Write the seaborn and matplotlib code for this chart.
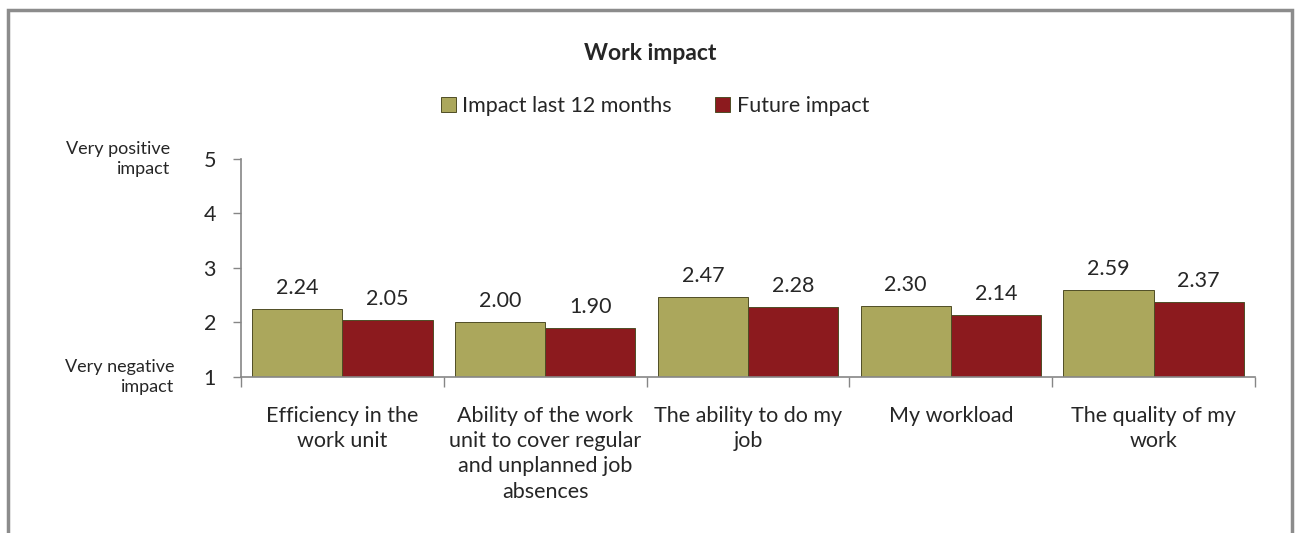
import pandas as pd
import seaborn as sns
import matplotlib.pyplot as plt
from matplotlib.patches import Rectangle
from matplotlib.transforms import blended_transform_factory

# chart data
categories = ['Efficiency in the\nwork unit',
              'Ability of the work\nunit to cover regular\nand unplanned job\nabsences',
              'The ability to do my\njob',
              'My workload',
              'The quality of my\nwork']
last_12 = [2.24, 2.00, 2.47, 2.30, 2.59]
future = [2.05, 1.90, 2.28, 2.14, 2.37]
series_names = ['Impact last 12 months', 'Future impact']

df = pd.DataFrame({
    'category': categories * 2,
    'score': last_12 + future,
    'series': [series_names[0]] * 5 + [series_names[1]] * 5,
})

sns.set_style('white')
plt.rcParams['font.family'] = ['Lato', 'DejaVu Sans']

fig = plt.figure(figsize=(13, 5.33), dpi=100)
ax = fig.add_axes([0.1854, 0.2927, 0.78, 0.409])

colors = ['#ABA75C', '#8C1A1E']
sns.barplot(data=df, x='category', y='score', hue='series', palette=colors,
            saturation=1, width=0.89, gap=0, edgecolor='#4f4d25', linewidth=0.7,
            ax=ax, legend=True)

# bars start at 1 (bottom of axis), so the axis is clipped at 1
ax.set_ylim(1, 5)
ax.set_yticks([1, 2, 3, 4, 5])
ax.set_xlim(-0.5, 4.5)
ax.set_xlabel('')
ax.set_ylabel('')

for cont in ax.containers:
    ax.bar_label(cont, fmt='%.2f', padding=8, fontsize=15.5)

# ticks: y outward, x ticks between categories
ax.tick_params(axis='y', length=6, width=1, color='#868686', labelsize=15.5, pad=12, left=True)
ax.tick_params(axis='x', which='major', length=0, labelsize=15.5, pad=21)
ax.set_xticks([-0.5, 0.5, 1.5, 2.5, 3.5, 4.5], minor=True)
ax.tick_params(axis='x', which='minor', length=7, width=1, color='#868686', bottom=True)
ax.set_xticklabels(categories, va='top', linespacing=1.32)

for s in ['top', 'right']:
    ax.spines[s].set_visible(False)
for s in ['left', 'bottom']:
    ax.spines[s].set_color('#868686')
    ax.spines[s].set_linewidth(1.2)

# scale anchor labels
tr = blended_transform_factory(ax.transAxes, ax.transData)
ax.text(-0.070, 5, 'Very positive\nimpact', transform=tr, ha='right', va='center',
        fontsize=13, linespacing=1.35)
ax.text(-0.066, 1, 'Very negative\nimpact', transform=tr, ha='right', va='center',
        fontsize=13, linespacing=1.35)

# legend above plot
handles, labels = ax.get_legend_handles_labels()
ax.get_legend().remove()
fig.legend(handles, labels, loc='center', bbox_to_anchor=(655 / 1300, 1 - 106 / 533),
           ncol=2, frameon=False, fontsize=15.5, handlelength=0.7, handleheight=0.7,
           handletextpad=0.3, columnspacing=2.0)

fig.text(650 / 1300, 1 - 53 / 533, 'Work impact', ha='center', va='center',
         fontsize=16.5, fontweight='bold')

# outer frame (bottom edge is cut off in the reference)
fig.patches.append(Rectangle((8 / 1300, -0.1), 1284 / 1300, 1.1 - 10 / 533,
                             transform=fig.transFigure, fill=False,
                             edgecolor='#8c8c8c', linewidth=2.5))

fig.savefig('out.png', dpi=100)
